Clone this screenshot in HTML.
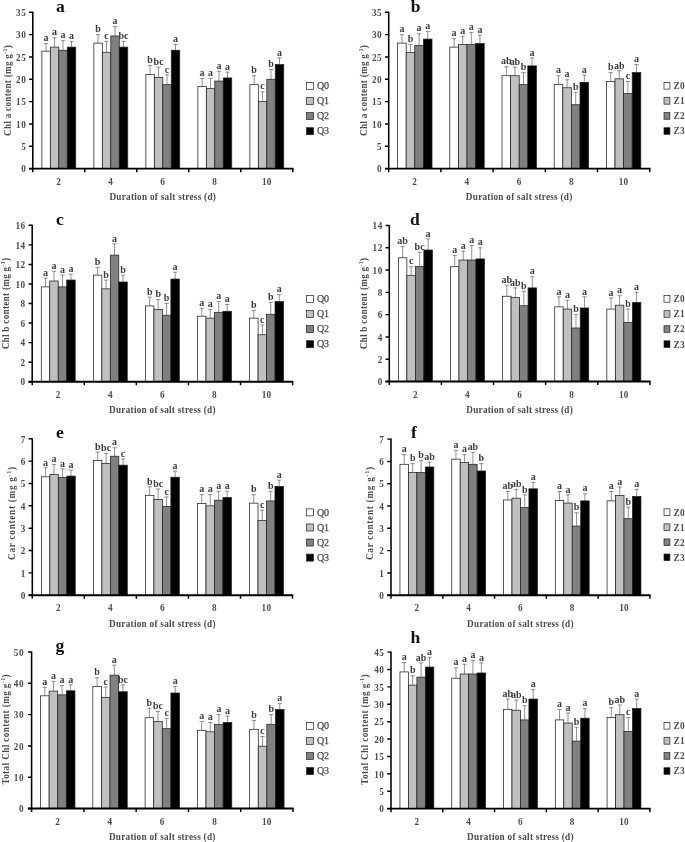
<!DOCTYPE html>
<html lang="en"><head><meta charset="utf-8"><title>Pigment content under salt stress</title>
<style>
html,body{margin:0;padding:0;background:#fff}
body{width:685px;height:842px;overflow:hidden}
svg{display:block;font-family:"Liberation Serif","Times New Roman",serif;fill:#4c4c4c}
text{font-weight:bold;font-size:9.2px;letter-spacing:.27px}
.ay{stroke:#000;stroke-width:1.55;fill:none}
.axx{stroke:#000;stroke-width:1.85;fill:none}
.tk{stroke:#000;stroke-width:1.45;fill:none}
.er{stroke:#555;stroke-width:.65;fill:none}
.br{stroke:#222;stroke-width:.75}
.lb{stroke:#222;stroke-width:.7}
.lt{text-anchor:middle;font-size:10px;letter-spacing:0;fill:#3c3c3c}
.yt{text-anchor:end;letter-spacing:.55px}
.xt{text-anchor:middle}
.ti{text-anchor:middle}
.sup{font-size:6px}
.pl{text-anchor:middle;font-size:17.6px;fill:#111;letter-spacing:0}
.lg{font-weight:normal;font-size:10px;letter-spacing:0;stroke:#4c4c4c;stroke-width:.25}
.lgb{font-size:9.3px}
</style></head>
<body>
<svg width="685" height="842" viewBox="0 0 685 842">
<rect width="685" height="842" fill="#fff"/>
<g>
<path d="M46.09 51.15V43.56M43.99 43.56H48.2" class="er"/>
<rect x="41.86" y="51.15" width="8.47" height="117.45" fill="#ffffff" class="br"/>
<text transform="translate(46.09 41.26) scale(1 1.14)" class="lt">a</text>
<path d="M54.56 47.13V37.75M52.46 37.75H56.66" class="er"/>
<rect x="50.33" y="47.13" width="8.47" height="121.47" fill="#c0c0c0" class="br"/>
<text transform="translate(54.56 35.45) scale(1 1.14)" class="lt">a</text>
<path d="M63.03 50.26V40.43M60.93 40.43H65.13" class="er"/>
<rect x="58.8" y="50.26" width="8.47" height="118.34" fill="#808080" class="br"/>
<text transform="translate(63.03 38.13) scale(1 1.14)" class="lt">a</text>
<path d="M71.51 47.13V41.33M69.41 41.33H73.61" class="er"/>
<rect x="67.27" y="47.13" width="8.47" height="121.47" fill="#000000" class="br"/>
<text transform="translate(71.51 39.03) scale(1 1.14)" class="lt">a</text>
<path d="M98.09 43.11V34.63M96 34.63H100.19" class="er"/>
<rect x="93.86" y="43.11" width="8.47" height="125.49" fill="#ffffff" class="br"/>
<text transform="translate(98.09 32.33) scale(1 1.14)" class="lt">b</text>
<path d="M106.56 52.27V41.33M104.47 41.33H108.66" class="er"/>
<rect x="102.33" y="52.27" width="8.47" height="116.33" fill="#c0c0c0" class="br"/>
<text transform="translate(106.56 39.03) scale(1 1.14)" class="lt">c</text>
<path d="M115.03 35.97V26.59M112.94 26.59H117.13" class="er"/>
<rect x="110.8" y="35.97" width="8.47" height="132.63" fill="#808080" class="br"/>
<text transform="translate(115.03 24.29) scale(1 1.14)" class="lt">a</text>
<path d="M123.51 47.13V41.33M121.41 41.33H125.61" class="er"/>
<rect x="119.27" y="47.13" width="8.47" height="121.47" fill="#000000" class="br"/>
<text transform="translate(123.51 39.03) scale(1 1.14)" class="lt">bc</text>
<path d="M150.1 74.37V65.44M148 65.44H152.2" class="er"/>
<rect x="145.86" y="74.37" width="8.47" height="94.23" fill="#ffffff" class="br"/>
<text transform="translate(150.1 63.14) scale(1 1.14)" class="lt">b</text>
<path d="M158.57 77.5V67.23M156.47 67.23H160.67" class="er"/>
<rect x="154.33" y="77.5" width="8.47" height="91.1" fill="#c0c0c0" class="br"/>
<text transform="translate(158.57 64.93) scale(1 1.14)" class="lt">bc</text>
<path d="M167.04 84.64V74.82M164.94 74.82H169.14" class="er"/>
<rect x="162.8" y="84.64" width="8.47" height="83.96" fill="#808080" class="br"/>
<text transform="translate(167.04 72.52) scale(1 1.14)" class="lt">c</text>
<path d="M175.51 50.26V44.45M173.41 44.45H177.61" class="er"/>
<rect x="171.27" y="50.26" width="8.47" height="118.34" fill="#000000" class="br"/>
<text transform="translate(175.51 42.15) scale(1 1.14)" class="lt">a</text>
<path d="M202.1 86.43V78.39M200 78.39H204.2" class="er"/>
<rect x="197.86" y="86.43" width="8.47" height="82.17" fill="#ffffff" class="br"/>
<text transform="translate(202.1 76.09) scale(1 1.14)" class="lt">a</text>
<path d="M210.57 88.66V78.39M208.47 78.39H212.67" class="er"/>
<rect x="206.33" y="88.66" width="8.47" height="79.94" fill="#c0c0c0" class="br"/>
<text transform="translate(210.57 76.09) scale(1 1.14)" class="lt">a</text>
<path d="M219.04 81.07V71.25M216.94 71.25H221.14" class="er"/>
<rect x="214.8" y="81.07" width="8.47" height="87.53" fill="#808080" class="br"/>
<text transform="translate(219.04 68.95) scale(1 1.14)" class="lt">a</text>
<path d="M227.51 77.95V72.14M225.41 72.14H229.61" class="er"/>
<rect x="223.27" y="77.95" width="8.47" height="90.65" fill="#000000" class="br"/>
<text transform="translate(227.51 69.84) scale(1 1.14)" class="lt">a</text>
<path d="M254.1 84.64V75.71M252 75.71H256.2" class="er"/>
<rect x="249.86" y="84.64" width="8.47" height="83.96" fill="#ffffff" class="br"/>
<text transform="translate(254.1 73.41) scale(1 1.14)" class="lt">b</text>
<path d="M262.57 101.61V91.79M260.47 91.79H264.67" class="er"/>
<rect x="258.33" y="101.61" width="8.47" height="66.99" fill="#c0c0c0" class="br"/>
<text transform="translate(262.57 89.49) scale(1 1.14)" class="lt">c</text>
<path d="M271.04 79.29V69.46M268.94 69.46H273.14" class="er"/>
<rect x="266.8" y="79.29" width="8.47" height="89.31" fill="#808080" class="br"/>
<text transform="translate(271.04 67.16) scale(1 1.14)" class="lt">b</text>
<path d="M279.51 64.55V57.85M277.41 57.85H281.61" class="er"/>
<rect x="275.27" y="64.55" width="8.47" height="104.05" fill="#000000" class="br"/>
<text transform="translate(279.51 55.55) scale(1 1.14)" class="lt">a</text>
<path d="M32.8 11.7V169.5" class="ay"/>
<path d="M29.1 168.6H293.5" class="axx"/>
<text transform="translate(26.3 172.3) scale(1 1.14)" class="yt">0</text>
<text transform="translate(26.3 149.97) scale(1 1.14)" class="yt">5</text>
<text transform="translate(26.3 127.64) scale(1 1.14)" class="yt">10</text>
<text transform="translate(26.3 105.31) scale(1 1.14)" class="yt">15</text>
<text transform="translate(26.3 82.99) scale(1 1.14)" class="yt">20</text>
<text transform="translate(26.3 60.66) scale(1 1.14)" class="yt">25</text>
<text transform="translate(26.3 38.33) scale(1 1.14)" class="yt">30</text>
<text transform="translate(26.3 16) scale(1 1.14)" class="yt">35</text>
<path d="M29.1 168.6H32.8M29.1 146.27H32.8M29.1 123.94H32.8M29.1 101.61H32.8M29.1 79.29H32.8M29.1 56.96H32.8M29.1 34.63H32.8M29.1 12.3H32.8M32.8 168.6V172.2M84.8 168.6V172.2M136.8 168.6V172.2M188.8 168.6V172.2M240.8 168.6V172.2M292.8 168.6V172.2" class="tk"/>
<text transform="translate(58.8 184.7) scale(1 1.14)" class="xt">2</text>
<text transform="translate(110.8 184.7) scale(1 1.14)" class="xt">4</text>
<text transform="translate(162.8 184.7) scale(1 1.14)" class="xt">6</text>
<text transform="translate(214.8 184.7) scale(1 1.14)" class="xt">8</text>
<text transform="translate(266.8 184.7) scale(1 1.14)" class="xt">10</text>
<text transform="translate(162.8 200.2) scale(1 1.14)" class="ti">Duration of salt stress (d)</text>
<text transform="translate(10.6 90.45) rotate(-90) scale(1 1.14)" class="ti">Chl a content (mg g<tspan class="sup" dy="-3.5">-1</tspan><tspan dy="3.5">)</tspan></text>
<text transform="translate(60.4 11.6) scale(1 .93)" class="pl">a</text>
<rect x="306.6" y="82.5" width="7" height="7" fill="#ffffff" class="lb"/>
<text x="316.9" y="89.2" class="lg">Q0</text>
<rect x="306.6" y="97.57" width="7" height="7" fill="#c0c0c0" class="lb"/>
<text x="316.9" y="104.27" class="lg">Q1</text>
<rect x="306.6" y="112.64" width="7" height="7" fill="#808080" class="lb"/>
<text x="316.9" y="119.34" class="lg">Q2</text>
<rect x="306.6" y="127.71" width="7" height="7" fill="#000000" class="lb"/>
<text x="316.9" y="134.41" class="lg">Q3</text>
</g>
<g>
<path d="M401.9 43.11V34.63M399.8 34.63H404" class="er"/>
<rect x="397.6" y="43.11" width="8.6" height="125.49" fill="#ffffff" class="br"/>
<text transform="translate(401.9 32.33) scale(1 1.14)" class="lt">a</text>
<path d="M410.5 52.49V44.45M408.4 44.45H412.6" class="er"/>
<rect x="406.2" y="52.49" width="8.6" height="116.11" fill="#c0c0c0" class="br"/>
<text transform="translate(410.5 42.15) scale(1 1.14)" class="lt">b</text>
<path d="M419.1 45.35V33.74M417 33.74H421.2" class="er"/>
<rect x="414.8" y="45.35" width="8.6" height="123.25" fill="#808080" class="br"/>
<text transform="translate(419.1 31.44) scale(1 1.14)" class="lt">a</text>
<path d="M427.7 39.09V31.5M425.6 31.5H429.8" class="er"/>
<rect x="423.4" y="39.09" width="8.6" height="129.51" fill="#000000" class="br"/>
<text transform="translate(427.7 29.2) scale(1 1.14)" class="lt">a</text>
<path d="M454.1 47.13V38.65M452 38.65H456.2" class="er"/>
<rect x="449.8" y="47.13" width="8.6" height="121.47" fill="#ffffff" class="br"/>
<text transform="translate(454.1 36.35) scale(1 1.14)" class="lt">a</text>
<path d="M462.7 44.45V36.41M460.6 36.41H464.8" class="er"/>
<rect x="458.4" y="44.45" width="8.6" height="124.15" fill="#c0c0c0" class="br"/>
<text transform="translate(462.7 34.11) scale(1 1.14)" class="lt">a</text>
<path d="M471.3 44.45V32.4M469.2 32.4H473.4" class="er"/>
<rect x="467" y="44.45" width="8.6" height="124.15" fill="#808080" class="br"/>
<text transform="translate(471.3 30.1) scale(1 1.14)" class="lt">a</text>
<path d="M479.9 43.56V35.08M477.8 35.08H482" class="er"/>
<rect x="475.6" y="43.56" width="8.6" height="125.04" fill="#000000" class="br"/>
<text transform="translate(479.9 32.78) scale(1 1.14)" class="lt">a</text>
<path d="M506.3 75.71V66.78M504.2 66.78H508.4" class="er"/>
<rect x="502" y="75.71" width="8.6" height="92.89" fill="#ffffff" class="br"/>
<text transform="translate(506.3 64.48) scale(1 1.14)" class="lt">ab</text>
<path d="M514.9 75.71V67.23M512.8 67.23H517" class="er"/>
<rect x="510.6" y="75.71" width="8.6" height="92.89" fill="#c0c0c0" class="br"/>
<text transform="translate(514.9 64.93) scale(1 1.14)" class="lt">ab</text>
<path d="M523.5 84.64V72.59M521.4 72.59H525.6" class="er"/>
<rect x="519.2" y="84.64" width="8.6" height="83.96" fill="#808080" class="br"/>
<text transform="translate(523.5 70.29) scale(1 1.14)" class="lt">b</text>
<path d="M532.1 65.89V57.85M530 57.85H534.2" class="er"/>
<rect x="527.8" y="65.89" width="8.6" height="102.71" fill="#000000" class="br"/>
<text transform="translate(532.1 55.55) scale(1 1.14)" class="lt">a</text>
<path d="M558.5 84.64V75.71M556.4 75.71H560.6" class="er"/>
<rect x="554.2" y="84.64" width="8.6" height="83.96" fill="#ffffff" class="br"/>
<text transform="translate(558.5 73.41) scale(1 1.14)" class="lt">a</text>
<path d="M567.1 87.77V79.73M565 79.73H569.2" class="er"/>
<rect x="562.8" y="87.77" width="8.6" height="80.83" fill="#c0c0c0" class="br"/>
<text transform="translate(567.1 77.43) scale(1 1.14)" class="lt">a</text>
<path d="M575.7 104.74V92.24M573.6 92.24H577.8" class="er"/>
<rect x="571.4" y="104.74" width="8.6" height="63.86" fill="#808080" class="br"/>
<text transform="translate(575.7 89.94) scale(1 1.14)" class="lt">b</text>
<path d="M584.3 82.41V75.04M582.2 75.04H586.4" class="er"/>
<rect x="580" y="82.41" width="8.6" height="86.19" fill="#000000" class="br"/>
<text transform="translate(584.3 72.74) scale(1 1.14)" class="lt">a</text>
<path d="M610.7 81.52V72.59M608.6 72.59H612.8" class="er"/>
<rect x="606.4" y="81.52" width="8.6" height="87.08" fill="#ffffff" class="br"/>
<text transform="translate(610.7 70.29) scale(1 1.14)" class="lt">b</text>
<path d="M619.3 78.84V70.8M617.2 70.8H621.4" class="er"/>
<rect x="615" y="78.84" width="8.6" height="89.76" fill="#c0c0c0" class="br"/>
<text transform="translate(619.3 68.5) scale(1 1.14)" class="lt">ab</text>
<path d="M627.9 93.58V81.52M625.8 81.52H630" class="er"/>
<rect x="623.6" y="93.58" width="8.6" height="75.02" fill="#808080" class="br"/>
<text transform="translate(627.9 79.22) scale(1 1.14)" class="lt">c</text>
<path d="M636.5 72.59V64.55M634.4 64.55H638.6" class="er"/>
<rect x="632.2" y="72.59" width="8.6" height="96.01" fill="#000000" class="br"/>
<text transform="translate(636.5 62.25) scale(1 1.14)" class="lt">a</text>
<path d="M388.7 11.7V169.5" class="ay"/>
<path d="M385 168.6H650.4" class="axx"/>
<text transform="translate(382.2 172.3) scale(1 1.14)" class="yt">0</text>
<text transform="translate(382.2 149.97) scale(1 1.14)" class="yt">5</text>
<text transform="translate(382.2 127.64) scale(1 1.14)" class="yt">10</text>
<text transform="translate(382.2 105.31) scale(1 1.14)" class="yt">15</text>
<text transform="translate(382.2 82.99) scale(1 1.14)" class="yt">20</text>
<text transform="translate(382.2 60.66) scale(1 1.14)" class="yt">25</text>
<text transform="translate(382.2 38.33) scale(1 1.14)" class="yt">30</text>
<text transform="translate(382.2 16) scale(1 1.14)" class="yt">35</text>
<path d="M385 168.6H388.7M385 146.27H388.7M385 123.94H388.7M385 101.61H388.7M385 79.29H388.7M385 56.96H388.7M385 34.63H388.7M385 12.3H388.7M388.7 168.6V172.2M440.9 168.6V172.2M493.1 168.6V172.2M545.3 168.6V172.2M597.5 168.6V172.2M649.7 168.6V172.2" class="tk"/>
<text transform="translate(414.8 184.7) scale(1 1.14)" class="xt">2</text>
<text transform="translate(467 184.7) scale(1 1.14)" class="xt">4</text>
<text transform="translate(519.2 184.7) scale(1 1.14)" class="xt">6</text>
<text transform="translate(571.4 184.7) scale(1 1.14)" class="xt">8</text>
<text transform="translate(623.6 184.7) scale(1 1.14)" class="xt">10</text>
<text transform="translate(519.2 200.2) scale(1 1.14)" class="ti">Duration of salt stress (d)</text>
<text transform="translate(366.6 90.45) rotate(-90) scale(1 1.14)" class="ti">Chl a content (mg g<tspan class="sup" dy="-3.5">-1</tspan><tspan dy="3.5">)</tspan></text>
<text transform="translate(415.6 11.6) scale(1 .93)" class="pl">b</text>
<rect x="664" y="82.5" width="5.9" height="6.6" fill="#ffffff" class="lb"/>
<text x="673.5" y="89.2" class="lgb">Z0</text>
<rect x="664" y="97.57" width="5.9" height="6.6" fill="#c0c0c0" class="lb"/>
<text x="673.5" y="104.27" class="lgb">Z1</text>
<rect x="664" y="112.64" width="5.9" height="6.6" fill="#808080" class="lb"/>
<text x="673.5" y="119.34" class="lgb">Z2</text>
<rect x="664" y="127.71" width="5.9" height="6.6" fill="#000000" class="lb"/>
<text x="673.5" y="134.41" class="lgb">Z3</text>
</g>
<g>
<path d="M45.54 286.88V278.09M43.44 278.09H47.64" class="er"/>
<rect x="41.3" y="286.88" width="8.47" height="94.82" fill="#ffffff" class="br"/>
<text transform="translate(45.54 275.79) scale(1 1.14)" class="lt">a</text>
<path d="M54.01 281.02V271.24M51.91 271.24H56.11" class="er"/>
<rect x="49.77" y="281.02" width="8.47" height="100.68" fill="#c0c0c0" class="br"/>
<text transform="translate(54.01 268.94) scale(1 1.14)" class="lt">a</text>
<path d="M62.48 286.88V275.15M60.38 275.15H64.58" class="er"/>
<rect x="58.24" y="286.88" width="8.47" height="94.82" fill="#808080" class="br"/>
<text transform="translate(62.48 272.85) scale(1 1.14)" class="lt">a</text>
<path d="M70.95 280.04V274.18M68.85 274.18H73.05" class="er"/>
<rect x="66.71" y="280.04" width="8.47" height="101.66" fill="#000000" class="br"/>
<text transform="translate(70.95 271.88) scale(1 1.14)" class="lt">a</text>
<path d="M97.62 275.15V267.33M95.52 267.33H99.72" class="er"/>
<rect x="93.38" y="275.15" width="8.47" height="106.55" fill="#ffffff" class="br"/>
<text transform="translate(97.62 265.03) scale(1 1.14)" class="lt">b</text>
<path d="M106.09 288.84V280.04M103.99 280.04H108.19" class="er"/>
<rect x="101.85" y="288.84" width="8.47" height="92.86" fill="#c0c0c0" class="br"/>
<text transform="translate(106.09 277.74) scale(1 1.14)" class="lt">b</text>
<path d="M114.56 255.11V243.87M112.46 243.87H116.66" class="er"/>
<rect x="110.32" y="255.11" width="8.47" height="126.59" fill="#808080" class="br"/>
<text transform="translate(114.56 241.57) scale(1 1.14)" class="lt">a</text>
<path d="M123.03 282V275.15M120.93 275.15H125.13" class="er"/>
<rect x="118.79" y="282" width="8.47" height="99.7" fill="#000000" class="br"/>
<text transform="translate(123.03 272.85) scale(1 1.14)" class="lt">b</text>
<path d="M149.7 305.94V297.15M147.6 297.15H151.8" class="er"/>
<rect x="145.46" y="305.94" width="8.47" height="75.76" fill="#ffffff" class="br"/>
<text transform="translate(149.7 294.85) scale(1 1.14)" class="lt">b</text>
<path d="M158.17 309.37V299.59M156.07 299.59H160.27" class="er"/>
<rect x="153.93" y="309.37" width="8.47" height="72.33" fill="#c0c0c0" class="br"/>
<text transform="translate(158.17 297.29) scale(1 1.14)" class="lt">b</text>
<path d="M166.64 315.23V303.5M164.54 303.5H168.74" class="er"/>
<rect x="162.4" y="315.23" width="8.47" height="66.47" fill="#808080" class="br"/>
<text transform="translate(166.64 301.2) scale(1 1.14)" class="lt">b</text>
<path d="M175.11 279.06V272.22M173.01 272.22H177.21" class="er"/>
<rect x="170.87" y="279.06" width="8.47" height="102.64" fill="#000000" class="br"/>
<text transform="translate(175.11 269.92) scale(1 1.14)" class="lt">a</text>
<path d="M201.78 316.21V308.39M199.68 308.39H203.88" class="er"/>
<rect x="197.54" y="316.21" width="8.47" height="65.49" fill="#ffffff" class="br"/>
<text transform="translate(201.78 306.09) scale(1 1.14)" class="lt">a</text>
<path d="M210.25 318.16V309.37M208.15 309.37H212.35" class="er"/>
<rect x="206.01" y="318.16" width="8.47" height="63.54" fill="#c0c0c0" class="br"/>
<text transform="translate(210.25 307.06) scale(1 1.14)" class="lt">a</text>
<path d="M218.72 312.3V301.55M216.62 301.55H220.82" class="er"/>
<rect x="214.48" y="312.3" width="8.47" height="69.4" fill="#808080" class="br"/>
<text transform="translate(218.72 299.25) scale(1 1.14)" class="lt">a</text>
<path d="M227.19 311.32V304.48M225.09 304.48H229.29" class="er"/>
<rect x="222.95" y="311.32" width="8.47" height="70.38" fill="#000000" class="br"/>
<text transform="translate(227.19 302.18) scale(1 1.14)" class="lt">a</text>
<path d="M253.86 318.16V310.34M251.76 310.34H255.96" class="er"/>
<rect x="249.62" y="318.16" width="8.47" height="63.54" fill="#ffffff" class="br"/>
<text transform="translate(253.86 308.04) scale(1 1.14)" class="lt">b</text>
<path d="M262.33 334.78V325M260.23 325H264.43" class="er"/>
<rect x="258.09" y="334.78" width="8.47" height="46.92" fill="#c0c0c0" class="br"/>
<text transform="translate(262.33 322.7) scale(1 1.14)" class="lt">c</text>
<path d="M270.8 314.25V302.52M268.69 302.52H272.9" class="er"/>
<rect x="266.56" y="314.25" width="8.47" height="67.45" fill="#808080" class="br"/>
<text transform="translate(270.8 300.22) scale(1 1.14)" class="lt">b</text>
<path d="M279.27 301.55V294.7M277.17 294.7H281.37" class="er"/>
<rect x="275.03" y="301.55" width="8.47" height="80.15" fill="#000000" class="br"/>
<text transform="translate(279.27 292.4) scale(1 1.14)" class="lt">a</text>
<path d="M32.2 224.7V382.6" class="ay"/>
<path d="M28.5 381.7H293.3" class="axx"/>
<text transform="translate(25.7 385.4) scale(1 1.14)" class="yt">0</text>
<text transform="translate(25.7 365.85) scale(1 1.14)" class="yt">2</text>
<text transform="translate(25.7 346.3) scale(1 1.14)" class="yt">4</text>
<text transform="translate(25.7 326.75) scale(1 1.14)" class="yt">6</text>
<text transform="translate(25.7 307.2) scale(1 1.14)" class="yt">8</text>
<text transform="translate(25.7 287.65) scale(1 1.14)" class="yt">10</text>
<text transform="translate(25.7 268.1) scale(1 1.14)" class="yt">12</text>
<text transform="translate(25.7 248.55) scale(1 1.14)" class="yt">14</text>
<text transform="translate(25.7 229) scale(1 1.14)" class="yt">16</text>
<path d="M28.5 381.7H32.2M28.5 362.15H32.2M28.5 342.6H32.2M28.5 323.05H32.2M28.5 303.5H32.2M28.5 283.95H32.2M28.5 264.4H32.2M28.5 244.85H32.2M28.5 225.3H32.2M32.2 381.7V385.3M84.28 381.7V385.3M136.36 381.7V385.3M188.44 381.7V385.3M240.52 381.7V385.3M292.6 381.7V385.3" class="tk"/>
<text transform="translate(58.24 397.8) scale(1 1.14)" class="xt">2</text>
<text transform="translate(110.32 397.8) scale(1 1.14)" class="xt">4</text>
<text transform="translate(162.4 397.8) scale(1 1.14)" class="xt">6</text>
<text transform="translate(214.48 397.8) scale(1 1.14)" class="xt">8</text>
<text transform="translate(266.56 397.8) scale(1 1.14)" class="xt">10</text>
<text transform="translate(162.4 413.3) scale(1 1.14)" class="ti">Duration of salt stress (d)</text>
<text transform="translate(9 303.5) rotate(-90) scale(1 1.14)" class="ti">Chl b content (mg g<tspan class="sup" dy="-3.5">-1</tspan><tspan dy="3.5">)</tspan></text>
<text transform="translate(59.9 225.1) scale(1 .93)" class="pl">c</text>
<rect x="306.6" y="295.5" width="7" height="7" fill="#ffffff" class="lb"/>
<text x="316.9" y="302.2" class="lg">Q0</text>
<rect x="306.6" y="310.57" width="7" height="7" fill="#c0c0c0" class="lb"/>
<text x="316.9" y="317.27" class="lg">Q1</text>
<rect x="306.6" y="325.64" width="7" height="7" fill="#808080" class="lb"/>
<text x="316.9" y="332.34" class="lg">Q2</text>
<rect x="306.6" y="340.71" width="7" height="7" fill="#000000" class="lb"/>
<text x="316.9" y="347.41" class="lg">Q3</text>
</g>
<g>
<path d="M402.61 257.81V246.67M400.51 246.67H404.71" class="er"/>
<rect x="398.36" y="257.81" width="8.5" height="123.69" fill="#ffffff" class="br"/>
<text transform="translate(402.61 244.37) scale(1 1.14)" class="lt">ab</text>
<path d="M411.11 275.31V266.73M409.01 266.73H413.21" class="er"/>
<rect x="406.86" y="275.31" width="8.5" height="106.19" fill="#c0c0c0" class="br"/>
<text transform="translate(411.11 264.43) scale(1 1.14)" class="lt">c</text>
<path d="M419.61 266.51V252.24M417.51 252.24H421.71" class="er"/>
<rect x="415.36" y="266.51" width="8.5" height="114.99" fill="#808080" class="br"/>
<text transform="translate(419.61 249.94) scale(1 1.14)" class="lt">bc</text>
<path d="M428.11 250.01V238.87M426.01 238.87H430.21" class="er"/>
<rect x="423.86" y="250.01" width="8.5" height="131.49" fill="#000000" class="br"/>
<text transform="translate(428.11 236.57) scale(1 1.14)" class="lt">a</text>
<path d="M454.73 266.73V255.59M452.63 255.59H456.83" class="er"/>
<rect x="450.48" y="266.73" width="8.5" height="114.77" fill="#ffffff" class="br"/>
<text transform="translate(454.73 253.29) scale(1 1.14)" class="lt">a</text>
<path d="M463.23 260.04V251.13M461.13 251.13H465.33" class="er"/>
<rect x="458.98" y="260.04" width="8.5" height="121.46" fill="#c0c0c0" class="br"/>
<text transform="translate(463.23 248.83) scale(1 1.14)" class="lt">a</text>
<path d="M471.73 260.04V245.56M469.63 245.56H473.83" class="er"/>
<rect x="467.48" y="260.04" width="8.5" height="121.46" fill="#808080" class="br"/>
<text transform="translate(471.73 243.26) scale(1 1.14)" class="lt">a</text>
<path d="M480.23 258.93V247.79M478.13 247.79H482.33" class="er"/>
<rect x="475.98" y="258.93" width="8.5" height="122.57" fill="#000000" class="br"/>
<text transform="translate(480.23 245.49) scale(1 1.14)" class="lt">a</text>
<path d="M506.85 296.26V285.11M504.75 285.11H508.95" class="er"/>
<rect x="502.6" y="296.26" width="8.5" height="85.24" fill="#ffffff" class="br"/>
<text transform="translate(506.85 282.81) scale(1 1.14)" class="lt">ab</text>
<path d="M515.35 297.59V287.9M513.25 287.9H517.45" class="er"/>
<rect x="511.1" y="297.59" width="8.5" height="83.91" fill="#c0c0c0" class="br"/>
<text transform="translate(515.35 285.6) scale(1 1.14)" class="lt">ab</text>
<path d="M523.85 305.73V291.24M521.75 291.24H525.95" class="er"/>
<rect x="519.6" y="305.73" width="8.5" height="75.77" fill="#808080" class="br"/>
<text transform="translate(523.85 288.94) scale(1 1.14)" class="lt">b</text>
<path d="M532.35 287.9V276.76M530.25 276.76H534.45" class="er"/>
<rect x="528.1" y="287.9" width="8.5" height="93.6" fill="#000000" class="br"/>
<text transform="translate(532.35 274.46) scale(1 1.14)" class="lt">a</text>
<path d="M558.97 306.84V296.81M556.87 296.81H561.07" class="er"/>
<rect x="554.72" y="306.84" width="8.5" height="74.66" fill="#ffffff" class="br"/>
<text transform="translate(558.97 294.51) scale(1 1.14)" class="lt">a</text>
<path d="M567.47 309.07V300.16M565.37 300.16H569.57" class="er"/>
<rect x="563.22" y="309.07" width="8.5" height="72.43" fill="#c0c0c0" class="br"/>
<text transform="translate(567.47 297.86) scale(1 1.14)" class="lt">a</text>
<path d="M575.97 328.01V314.64M573.87 314.64H578.07" class="er"/>
<rect x="571.72" y="328.01" width="8.5" height="53.49" fill="#808080" class="br"/>
<text transform="translate(575.97 312.34) scale(1 1.14)" class="lt">b</text>
<path d="M584.47 307.96V296.81M582.37 296.81H586.57" class="er"/>
<rect x="580.22" y="307.96" width="8.5" height="73.54" fill="#000000" class="br"/>
<text transform="translate(584.47 294.51) scale(1 1.14)" class="lt">a</text>
<path d="M611.09 309.07V297.93M608.99 297.93H613.19" class="er"/>
<rect x="606.84" y="309.07" width="8.5" height="72.43" fill="#ffffff" class="br"/>
<text transform="translate(611.09 295.63) scale(1 1.14)" class="lt">a</text>
<path d="M619.59 305.17V295.7M617.49 295.7H621.69" class="er"/>
<rect x="615.34" y="305.17" width="8.5" height="76.33" fill="#c0c0c0" class="br"/>
<text transform="translate(619.59 293.4) scale(1 1.14)" class="lt">a</text>
<path d="M628.09 322.44V309.07M625.99 309.07H630.19" class="er"/>
<rect x="623.84" y="322.44" width="8.5" height="59.06" fill="#808080" class="br"/>
<text transform="translate(628.09 306.77) scale(1 1.14)" class="lt">b</text>
<path d="M636.59 302.39V292.36M634.49 292.36H638.69" class="er"/>
<rect x="632.34" y="302.39" width="8.5" height="79.11" fill="#000000" class="br"/>
<text transform="translate(636.59 290.06) scale(1 1.14)" class="lt">a</text>
<path d="M389.3 224.9V382.4" class="ay"/>
<path d="M385.6 381.5H650.6" class="axx"/>
<text transform="translate(382.8 385.2) scale(1 1.14)" class="yt">0</text>
<text transform="translate(382.8 362.91) scale(1 1.14)" class="yt">2</text>
<text transform="translate(382.8 340.63) scale(1 1.14)" class="yt">4</text>
<text transform="translate(382.8 318.34) scale(1 1.14)" class="yt">6</text>
<text transform="translate(382.8 296.06) scale(1 1.14)" class="yt">8</text>
<text transform="translate(382.8 273.77) scale(1 1.14)" class="yt">10</text>
<text transform="translate(382.8 251.49) scale(1 1.14)" class="yt">12</text>
<text transform="translate(382.8 229.2) scale(1 1.14)" class="yt">14</text>
<path d="M385.6 381.5H389.3M385.6 359.21H389.3M385.6 336.93H389.3M385.6 314.64H389.3M385.6 292.36H389.3M385.6 270.07H389.3M385.6 247.79H389.3M385.6 225.5H389.3M389.3 381.5V385.1M441.42 381.5V385.1M493.54 381.5V385.1M545.66 381.5V385.1M597.78 381.5V385.1M649.9 381.5V385.1" class="tk"/>
<text transform="translate(415.36 397.6) scale(1 1.14)" class="xt">2</text>
<text transform="translate(467.48 397.6) scale(1 1.14)" class="xt">4</text>
<text transform="translate(519.6 397.6) scale(1 1.14)" class="xt">6</text>
<text transform="translate(571.72 397.6) scale(1 1.14)" class="xt">8</text>
<text transform="translate(623.84 397.6) scale(1 1.14)" class="xt">10</text>
<text transform="translate(519.6 413.1) scale(1 1.14)" class="ti">Duration of salt stress (d)</text>
<text transform="translate(366.6 303.5) rotate(-90) scale(1 1.14)" class="ti">Chl b content (mg g<tspan class="sup" dy="-3.5">-1</tspan><tspan dy="3.5">)</tspan></text>
<text transform="translate(415 225.1) scale(1 .93)" class="pl">d</text>
<rect x="664" y="295.6" width="5.9" height="6.6" fill="#ffffff" class="lb"/>
<text x="673.5" y="302.3" class="lgb">Z0</text>
<rect x="664" y="310.67" width="5.9" height="6.6" fill="#c0c0c0" class="lb"/>
<text x="673.5" y="317.37" class="lgb">Z1</text>
<rect x="664" y="325.74" width="5.9" height="6.6" fill="#808080" class="lb"/>
<text x="673.5" y="332.44" class="lgb">Z2</text>
<rect x="664" y="340.81" width="5.9" height="6.6" fill="#000000" class="lb"/>
<text x="673.5" y="347.51" class="lgb">Z3</text>
</g>
<g>
<path d="M45.61 476.78V467.85M43.51 467.85H47.71" class="er"/>
<rect x="41.38" y="476.78" width="8.47" height="118.42" fill="#ffffff" class="br"/>
<text transform="translate(45.61 465.55) scale(1 1.14)" class="lt">a</text>
<path d="M54.08 474.55V464.49M51.98 464.49H56.18" class="er"/>
<rect x="49.85" y="474.55" width="8.47" height="120.65" fill="#c0c0c0" class="br"/>
<text transform="translate(54.08 462.19) scale(1 1.14)" class="lt">a</text>
<path d="M62.55 477.45V468.96M60.45 468.96H64.65" class="er"/>
<rect x="58.32" y="477.45" width="8.47" height="117.75" fill="#808080" class="br"/>
<text transform="translate(62.55 466.66) scale(1 1.14)" class="lt">a</text>
<path d="M71.02 476.11V470.08M68.92 470.08H73.12" class="er"/>
<rect x="66.79" y="476.11" width="8.47" height="119.09" fill="#000000" class="br"/>
<text transform="translate(71.02 467.78) scale(1 1.14)" class="lt">a</text>
<path d="M97.66 460.47V452.21M95.56 452.21H99.75" class="er"/>
<rect x="93.42" y="460.47" width="8.47" height="134.73" fill="#ffffff" class="br"/>
<text transform="translate(97.66 449.91) scale(1 1.14)" class="lt">b</text>
<path d="M106.12 463.38V453.32M104.03 453.32H108.22" class="er"/>
<rect x="101.89" y="463.38" width="8.47" height="131.82" fill="#c0c0c0" class="br"/>
<text transform="translate(106.12 451.02) scale(1 1.14)" class="lt">bc</text>
<path d="M114.59 456.23V447.74M112.5 447.74H116.69" class="er"/>
<rect x="110.36" y="456.23" width="8.47" height="138.97" fill="#808080" class="br"/>
<text transform="translate(114.59 445.44) scale(1 1.14)" class="lt">a</text>
<path d="M123.07 465.16V458.91M120.97 458.91H125.17" class="er"/>
<rect x="118.83" y="465.16" width="8.47" height="130.04" fill="#000000" class="br"/>
<text transform="translate(123.07 456.61) scale(1 1.14)" class="lt">c</text>
<path d="M149.69 495.33V486.84M147.59 486.84H151.79" class="er"/>
<rect x="145.46" y="495.33" width="8.47" height="99.87" fill="#ffffff" class="br"/>
<text transform="translate(149.69 484.54) scale(1 1.14)" class="lt">b</text>
<path d="M158.16 499.57V489.07M156.06 489.07H160.26" class="er"/>
<rect x="153.93" y="499.57" width="8.47" height="95.63" fill="#c0c0c0" class="br"/>
<text transform="translate(158.16 486.77) scale(1 1.14)" class="lt">bc</text>
<path d="M166.63 506.5V496.89M164.53 496.89H168.73" class="er"/>
<rect x="162.4" y="506.5" width="8.47" height="88.7" fill="#808080" class="br"/>
<text transform="translate(166.63 494.59) scale(1 1.14)" class="lt">c</text>
<path d="M175.1 477.23V471.2M173 471.2H177.2" class="er"/>
<rect x="170.87" y="477.23" width="8.47" height="117.97" fill="#000000" class="br"/>
<text transform="translate(175.1 468.9) scale(1 1.14)" class="lt">a</text>
<path d="M201.74 503.59V494.66M199.64 494.66H203.84" class="er"/>
<rect x="197.5" y="503.59" width="8.47" height="91.61" fill="#ffffff" class="br"/>
<text transform="translate(201.74 492.36) scale(1 1.14)" class="lt">a</text>
<path d="M210.21 505.83V494.66M208.11 494.66H212.31" class="er"/>
<rect x="205.97" y="505.83" width="8.47" height="89.37" fill="#c0c0c0" class="br"/>
<text transform="translate(210.21 492.36) scale(1 1.14)" class="lt">a</text>
<path d="M218.68 500.24V491.31M216.58 491.31H220.78" class="er"/>
<rect x="214.44" y="500.24" width="8.47" height="94.96" fill="#808080" class="br"/>
<text transform="translate(218.68 489.01) scale(1 1.14)" class="lt">a</text>
<path d="M227.15 497.34V491.31M225.05 491.31H229.25" class="er"/>
<rect x="222.91" y="497.34" width="8.47" height="97.86" fill="#000000" class="br"/>
<text transform="translate(227.15 489.01) scale(1 1.14)" class="lt">a</text>
<path d="M253.78 503.15V494.66M251.68 494.66H255.88" class="er"/>
<rect x="249.54" y="503.15" width="8.47" height="92.05" fill="#ffffff" class="br"/>
<text transform="translate(253.78 492.36) scale(1 1.14)" class="lt">b</text>
<path d="M262.25 520.35V510.3M260.15 510.3H264.35" class="er"/>
<rect x="258.01" y="520.35" width="8.47" height="74.85" fill="#c0c0c0" class="br"/>
<text transform="translate(262.25 508) scale(1 1.14)" class="lt">c</text>
<path d="M270.72 500.91V491.31M268.62 491.31H272.82" class="er"/>
<rect x="266.48" y="500.91" width="8.47" height="94.29" fill="#808080" class="br"/>
<text transform="translate(270.72 489.01) scale(1 1.14)" class="lt">b</text>
<path d="M279.19 486.39V480.13M277.09 480.13H281.29" class="er"/>
<rect x="274.95" y="486.39" width="8.47" height="108.81" fill="#000000" class="br"/>
<text transform="translate(279.19 477.83) scale(1 1.14)" class="lt">a</text>
<path d="M32.3 438.2V596.1" class="ay"/>
<path d="M28.6 595.2H293.2" class="axx"/>
<text transform="translate(25.8 598.9) scale(1 1.14)" class="yt">0</text>
<text transform="translate(25.8 576.56) scale(1 1.14)" class="yt">1</text>
<text transform="translate(25.8 554.21) scale(1 1.14)" class="yt">2</text>
<text transform="translate(25.8 531.87) scale(1 1.14)" class="yt">3</text>
<text transform="translate(25.8 509.53) scale(1 1.14)" class="yt">4</text>
<text transform="translate(25.8 487.19) scale(1 1.14)" class="yt">5</text>
<text transform="translate(25.8 464.84) scale(1 1.14)" class="yt">6</text>
<text transform="translate(25.8 442.5) scale(1 1.14)" class="yt">7</text>
<path d="M28.6 595.2H32.3M28.6 572.86H32.3M28.6 550.51H32.3M28.6 528.17H32.3M28.6 505.83H32.3M28.6 483.49H32.3M28.6 461.14H32.3M28.6 438.8H32.3M32.3 595.2V598.8M84.34 595.2V598.8M136.38 595.2V598.8M188.42 595.2V598.8M240.46 595.2V598.8M292.5 595.2V598.8" class="tk"/>
<text transform="translate(58.32 611.3) scale(1 1.14)" class="xt">2</text>
<text transform="translate(110.36 611.3) scale(1 1.14)" class="xt">4</text>
<text transform="translate(162.4 611.3) scale(1 1.14)" class="xt">6</text>
<text transform="translate(214.44 611.3) scale(1 1.14)" class="xt">8</text>
<text transform="translate(266.48 611.3) scale(1 1.14)" class="xt">10</text>
<text transform="translate(162.4 626.8) scale(1 1.14)" class="ti">Duration of salt stress (d)</text>
<text transform="translate(14.5 513) rotate(-90) scale(1 1.14)" class="ti" style="letter-spacing:0.73px">Car content (mg g<tspan class="sup" dy="-3.5">-1</tspan><tspan dy="3.5">)</tspan></text>
<text transform="translate(60 438.1) scale(1 .93)" class="pl">e</text>
<rect x="306.6" y="508.9" width="7" height="7" fill="#ffffff" class="lb"/>
<text x="316.9" y="515.6" class="lg">Q0</text>
<rect x="306.6" y="523.97" width="7" height="7" fill="#c0c0c0" class="lb"/>
<text x="316.9" y="530.67" class="lg">Q1</text>
<rect x="306.6" y="539.04" width="7" height="7" fill="#808080" class="lb"/>
<text x="316.9" y="545.74" class="lg">Q2</text>
<rect x="306.6" y="554.11" width="7" height="7" fill="#000000" class="lb"/>
<text x="316.9" y="560.81" class="lg">Q3</text>
</g>
<g>
<path d="M404.19 464.3V454.71M402.08 454.71H406.29" class="er"/>
<rect x="399.95" y="464.3" width="8.47" height="130.9" fill="#ffffff" class="br"/>
<text transform="translate(404.19 452.41) scale(1 1.14)" class="lt">a</text>
<path d="M412.66 472.55V463.63M410.56 463.63H414.76" class="er"/>
<rect x="408.42" y="472.55" width="8.47" height="122.65" fill="#c0c0c0" class="br"/>
<text transform="translate(412.66 461.33) scale(1 1.14)" class="lt">b</text>
<path d="M421.12 472.55V460.29M419.02 460.29H423.23" class="er"/>
<rect x="416.89" y="472.55" width="8.47" height="122.65" fill="#808080" class="br"/>
<text transform="translate(421.12 457.99) scale(1 1.14)" class="lt">b</text>
<path d="M429.6 466.98V462.07M427.5 462.07H431.7" class="er"/>
<rect x="425.36" y="466.98" width="8.47" height="128.23" fill="#000000" class="br"/>
<text transform="translate(429.6 459.77) scale(1 1.14)" class="lt">ab</text>
<path d="M455.96 459.17V450.25M453.86 450.25H458.06" class="er"/>
<rect x="451.73" y="459.17" width="8.47" height="136.03" fill="#ffffff" class="br"/>
<text transform="translate(455.96 447.95) scale(1 1.14)" class="lt">a</text>
<path d="M464.44 462.51V454.71M462.33 454.71H466.54" class="er"/>
<rect x="460.2" y="462.51" width="8.47" height="132.69" fill="#c0c0c0" class="br"/>
<text transform="translate(464.44 452.41) scale(1 1.14)" class="lt">a</text>
<path d="M472.9 464.3V452.48M470.8 452.48H475" class="er"/>
<rect x="468.67" y="464.3" width="8.47" height="130.9" fill="#808080" class="br"/>
<text transform="translate(472.9 450.18) scale(1 1.14)" class="lt">ab</text>
<path d="M481.38 470.99V463.63M479.27 463.63H483.48" class="er"/>
<rect x="477.14" y="470.99" width="8.47" height="124.21" fill="#000000" class="br"/>
<text transform="translate(481.38 461.33) scale(1 1.14)" class="lt">b</text>
<path d="M507.75 499.98V491.5M505.65 491.5H509.85" class="er"/>
<rect x="503.51" y="499.98" width="8.47" height="95.22" fill="#ffffff" class="br"/>
<text transform="translate(507.75 489.2) scale(1 1.14)" class="lt">ab</text>
<path d="M516.22 498.2V489.28M514.12 489.28H518.32" class="er"/>
<rect x="511.98" y="498.2" width="8.47" height="97" fill="#c0c0c0" class="br"/>
<text transform="translate(516.22 486.98) scale(1 1.14)" class="lt">ab</text>
<path d="M524.69 507.56V494.85M522.59 494.85H526.79" class="er"/>
<rect x="520.45" y="507.56" width="8.47" height="87.64" fill="#808080" class="br"/>
<text transform="translate(524.69 492.55) scale(1 1.14)" class="lt">b</text>
<path d="M533.16 488.83V482.59M531.06 482.59H535.26" class="er"/>
<rect x="528.92" y="488.83" width="8.47" height="106.37" fill="#000000" class="br"/>
<text transform="translate(533.16 480.29) scale(1 1.14)" class="lt">a</text>
<path d="M559.52 500.43V491.5M557.42 491.5H561.62" class="er"/>
<rect x="555.29" y="500.43" width="8.47" height="94.78" fill="#ffffff" class="br"/>
<text transform="translate(559.52 489.2) scale(1 1.14)" class="lt">a</text>
<path d="M568 503.1V494.85M565.89 494.85H570.1" class="er"/>
<rect x="563.76" y="503.1" width="8.47" height="92.1" fill="#c0c0c0" class="br"/>
<text transform="translate(568 492.55) scale(1 1.14)" class="lt">a</text>
<path d="M576.47 526.07V512.69M574.37 512.69H578.57" class="er"/>
<rect x="572.23" y="526.07" width="8.47" height="69.13" fill="#808080" class="br"/>
<text transform="translate(576.47 510.39) scale(1 1.14)" class="lt">b</text>
<path d="M584.93 500.87V493.74M582.83 493.74H587.03" class="er"/>
<rect x="580.7" y="500.87" width="8.47" height="94.33" fill="#000000" class="br"/>
<text transform="translate(584.93 491.44) scale(1 1.14)" class="lt">a</text>
<path d="M611.3 500.87V491.5M609.2 491.5H613.4" class="er"/>
<rect x="607.07" y="500.87" width="8.47" height="94.33" fill="#ffffff" class="br"/>
<text transform="translate(611.3 489.2) scale(1 1.14)" class="lt">a</text>
<path d="M619.77 495.52V487.05M617.67 487.05H621.88" class="er"/>
<rect x="615.54" y="495.52" width="8.47" height="99.68" fill="#c0c0c0" class="br"/>
<text transform="translate(619.77 484.75) scale(1 1.14)" class="lt">a</text>
<path d="M628.25 518.71V507.12M626.14 507.12H630.35" class="er"/>
<rect x="624.01" y="518.71" width="8.47" height="76.49" fill="#808080" class="br"/>
<text transform="translate(628.25 504.81) scale(1 1.14)" class="lt">b</text>
<path d="M636.71 496.41V489.28M634.61 489.28H638.81" class="er"/>
<rect x="632.48" y="496.41" width="8.47" height="98.79" fill="#000000" class="br"/>
<text transform="translate(636.71 486.98) scale(1 1.14)" class="lt">a</text>
<path d="M391 438.5V596.1" class="ay"/>
<path d="M387.3 595.2H650.6" class="axx"/>
<text transform="translate(384.5 598.9) scale(1 1.14)" class="yt">0</text>
<text transform="translate(384.5 576.6) scale(1 1.14)" class="yt">1</text>
<text transform="translate(384.5 554.3) scale(1 1.14)" class="yt">2</text>
<text transform="translate(384.5 532) scale(1 1.14)" class="yt">3</text>
<text transform="translate(384.5 509.7) scale(1 1.14)" class="yt">4</text>
<text transform="translate(384.5 487.4) scale(1 1.14)" class="yt">5</text>
<text transform="translate(384.5 465.1) scale(1 1.14)" class="yt">6</text>
<text transform="translate(384.5 442.8) scale(1 1.14)" class="yt">7</text>
<path d="M387.3 595.2H391M387.3 572.9H391M387.3 550.6H391M387.3 528.3H391M387.3 506H391M387.3 483.7H391M387.3 461.4H391M387.3 439.1H391M391 595.2V598.8M442.78 595.2V598.8M494.56 595.2V598.8M546.34 595.2V598.8M598.12 595.2V598.8M649.9 595.2V598.8" class="tk"/>
<text transform="translate(416.89 611.3) scale(1 1.14)" class="xt">2</text>
<text transform="translate(468.67 611.3) scale(1 1.14)" class="xt">4</text>
<text transform="translate(520.45 611.3) scale(1 1.14)" class="xt">6</text>
<text transform="translate(572.23 611.3) scale(1 1.14)" class="xt">8</text>
<text transform="translate(624.01 611.3) scale(1 1.14)" class="xt">10</text>
<text transform="translate(520.45 626.8) scale(1 1.14)" class="ti">Duration of salt stress (d)</text>
<text transform="translate(373 513.15) rotate(-90) scale(1 1.14)" class="ti" style="letter-spacing:0.73px">Car content (mg g<tspan class="sup" dy="-3.5">-1</tspan><tspan dy="3.5">)</tspan></text>
<text transform="translate(414 438.1) scale(1 .93)" class="pl">f</text>
<rect x="664" y="508.8" width="5.9" height="6.6" fill="#ffffff" class="lb"/>
<text x="673.5" y="515.5" class="lgb">Z0</text>
<rect x="664" y="523.87" width="5.9" height="6.6" fill="#c0c0c0" class="lb"/>
<text x="673.5" y="530.57" class="lgb">Z1</text>
<rect x="664" y="538.94" width="5.9" height="6.6" fill="#808080" class="lb"/>
<text x="673.5" y="545.64" class="lgb">Z2</text>
<rect x="664" y="554.01" width="5.9" height="6.6" fill="#000000" class="lb"/>
<text x="673.5" y="560.71" class="lgb">Z3</text>
</g>
<g>
<path d="M44.84 695.82V687.37M42.74 687.37H46.94" class="er"/>
<rect x="40.54" y="695.82" width="8.6" height="112.68" fill="#ffffff" class="br"/>
<text transform="translate(44.84 685.07) scale(1 1.14)" class="lt">a</text>
<path d="M53.44 691.12V681.42M51.34 681.42H55.54" class="er"/>
<rect x="49.14" y="691.12" width="8.6" height="117.38" fill="#c0c0c0" class="br"/>
<text transform="translate(53.44 679.12) scale(1 1.14)" class="lt">a</text>
<path d="M62.04 694.88V685.49M59.94 685.49H64.14" class="er"/>
<rect x="57.74" y="694.88" width="8.6" height="113.62" fill="#808080" class="br"/>
<text transform="translate(62.04 683.19) scale(1 1.14)" class="lt">a</text>
<path d="M70.64 690.81V684.87M68.54 684.87H72.74" class="er"/>
<rect x="66.34" y="690.81" width="8.6" height="117.69" fill="#000000" class="br"/>
<text transform="translate(70.64 682.57) scale(1 1.14)" class="lt">a</text>
<path d="M97.12 686.43V677.67M95.02 677.67H99.22" class="er"/>
<rect x="92.82" y="686.43" width="8.6" height="122.07" fill="#ffffff" class="br"/>
<text transform="translate(97.12 675.37) scale(1 1.14)" class="lt">b</text>
<path d="M105.72 697.38V687.06M103.62 687.06H107.82" class="er"/>
<rect x="101.42" y="697.38" width="8.6" height="111.12" fill="#c0c0c0" class="br"/>
<text transform="translate(105.72 684.76) scale(1 1.14)" class="lt">c</text>
<path d="M114.32 675.16V665.15M112.22 665.15H116.42" class="er"/>
<rect x="110.02" y="675.16" width="8.6" height="133.34" fill="#808080" class="br"/>
<text transform="translate(114.32 662.85) scale(1 1.14)" class="lt">a</text>
<path d="M122.92 691.75V684.87M120.82 684.87H125.02" class="er"/>
<rect x="118.62" y="691.75" width="8.6" height="116.75" fill="#000000" class="br"/>
<text transform="translate(122.92 682.57) scale(1 1.14)" class="lt">bc</text>
<path d="M149.4 717.73V708.34M147.3 708.34H151.5" class="er"/>
<rect x="145.1" y="717.73" width="8.6" height="90.77" fill="#ffffff" class="br"/>
<text transform="translate(149.4 706.04) scale(1 1.14)" class="lt">b</text>
<path d="M158 721.49V711.47M155.9 711.47H160.1" class="er"/>
<rect x="153.7" y="721.49" width="8.6" height="87.01" fill="#c0c0c0" class="br"/>
<text transform="translate(158 709.17) scale(1 1.14)" class="lt">bc</text>
<path d="M166.6 728.68V718.36M164.5 718.36H168.7" class="er"/>
<rect x="162.3" y="728.68" width="8.6" height="79.82" fill="#808080" class="br"/>
<text transform="translate(166.6 716.06) scale(1 1.14)" class="lt">c</text>
<path d="M175.2 693V686.43M173.1 686.43H177.3" class="er"/>
<rect x="170.9" y="693" width="8.6" height="115.5" fill="#000000" class="br"/>
<text transform="translate(175.2 684.13) scale(1 1.14)" class="lt">a</text>
<path d="M201.68 730.25V721.49M199.58 721.49H203.78" class="er"/>
<rect x="197.38" y="730.25" width="8.6" height="78.25" fill="#ffffff" class="br"/>
<text transform="translate(201.68 719.19) scale(1 1.14)" class="lt">a</text>
<path d="M210.28 731.82V722.42M208.18 722.42H212.38" class="er"/>
<rect x="205.98" y="731.82" width="8.6" height="76.68" fill="#c0c0c0" class="br"/>
<text transform="translate(210.28 720.12) scale(1 1.14)" class="lt">a</text>
<path d="M218.88 724.62V714.6M216.78 714.6H220.98" class="er"/>
<rect x="214.58" y="724.62" width="8.6" height="83.88" fill="#808080" class="br"/>
<text transform="translate(218.88 712.3) scale(1 1.14)" class="lt">a</text>
<path d="M227.48 722.42V716.16M225.38 716.16H229.58" class="er"/>
<rect x="223.18" y="722.42" width="8.6" height="86.08" fill="#000000" class="br"/>
<text transform="translate(227.48 713.87) scale(1 1.14)" class="lt">a</text>
<path d="M253.96 729.31V720.55M251.86 720.55H256.06" class="er"/>
<rect x="249.66" y="729.31" width="8.6" height="79.19" fill="#ffffff" class="br"/>
<text transform="translate(253.96 718.25) scale(1 1.14)" class="lt">b</text>
<path d="M262.56 746.21V736.51M260.46 736.51H264.66" class="er"/>
<rect x="258.26" y="746.21" width="8.6" height="62.29" fill="#c0c0c0" class="br"/>
<text transform="translate(262.56 734.21) scale(1 1.14)" class="lt">c</text>
<path d="M271.16 724.3V714.6M269.06 714.6H273.26" class="er"/>
<rect x="266.86" y="724.3" width="8.6" height="84.2" fill="#808080" class="br"/>
<text transform="translate(271.16 712.3) scale(1 1.14)" class="lt">b</text>
<path d="M279.76 709.59V703.64M277.66 703.64H281.86" class="er"/>
<rect x="275.46" y="709.59" width="8.6" height="98.91" fill="#000000" class="br"/>
<text transform="translate(279.76 701.35) scale(1 1.14)" class="lt">a</text>
<path d="M31.6 651.4V809.4" class="ay"/>
<path d="M27.9 808.5H293.7" class="axx"/>
<text transform="translate(24.1 812.2) scale(1 1.14)" class="yt">0</text>
<text transform="translate(24.1 780.9) scale(1 1.14)" class="yt">10</text>
<text transform="translate(24.1 749.6) scale(1 1.14)" class="yt">20</text>
<text transform="translate(24.1 718.3) scale(1 1.14)" class="yt">30</text>
<text transform="translate(24.1 687) scale(1 1.14)" class="yt">40</text>
<text transform="translate(24.1 655.7) scale(1 1.14)" class="yt">50</text>
<path d="M27.9 808.5H31.6M27.9 777.2H31.6M27.9 745.9H31.6M27.9 714.6H31.6M27.9 683.3H31.6M27.9 652H31.6M31.6 808.5V812.1M83.88 808.5V812.1M136.16 808.5V812.1M188.44 808.5V812.1M240.72 808.5V812.1M293 808.5V812.1" class="tk"/>
<text transform="translate(57.74 824.6) scale(1 1.14)" class="xt">2</text>
<text transform="translate(110.02 824.6) scale(1 1.14)" class="xt">4</text>
<text transform="translate(162.3 824.6) scale(1 1.14)" class="xt">6</text>
<text transform="translate(214.58 824.6) scale(1 1.14)" class="xt">8</text>
<text transform="translate(266.86 824.6) scale(1 1.14)" class="xt">10</text>
<text transform="translate(162.3 840.1) scale(1 1.14)" class="ti">Duration of salt stress (d)</text>
<text transform="translate(9 729.25) rotate(-90) scale(1 1.14)" class="ti" style="letter-spacing:0.38px">Total Chl content (mg g<tspan class="sup" dy="-3.5">-1</tspan><tspan dy="3.5">)</tspan></text>
<text transform="translate(60 651.1) scale(1 .93)" class="pl">g</text>
<rect x="306.6" y="722.4" width="7" height="7" fill="#ffffff" class="lb"/>
<text x="316.9" y="729.1" class="lg">Q0</text>
<rect x="306.6" y="737.47" width="7" height="7" fill="#c0c0c0" class="lb"/>
<text x="316.9" y="744.17" class="lg">Q1</text>
<rect x="306.6" y="752.54" width="7" height="7" fill="#808080" class="lb"/>
<text x="316.9" y="759.24" class="lg">Q2</text>
<rect x="306.6" y="767.61" width="7" height="7" fill="#000000" class="lb"/>
<text x="316.9" y="774.31" class="lg">Q3</text>
</g>
<g>
<path d="M404.19 671.92V662.53M402.08 662.53H406.29" class="er"/>
<rect x="399.95" y="671.92" width="8.47" height="136.68" fill="#ffffff" class="br"/>
<text transform="translate(404.19 660.23) scale(1 1.14)" class="lt">a</text>
<path d="M412.66 685.14V675.75M410.56 675.75H414.76" class="er"/>
<rect x="408.42" y="685.14" width="8.47" height="123.46" fill="#c0c0c0" class="br"/>
<text transform="translate(412.66 673.45) scale(1 1.14)" class="lt">b</text>
<path d="M421.12 677.14V662.88M419.02 662.88H423.23" class="er"/>
<rect x="416.89" y="677.14" width="8.47" height="131.46" fill="#808080" class="br"/>
<text transform="translate(421.12 660.58) scale(1 1.14)" class="lt">ab</text>
<path d="M429.6 667.05V657.32M427.5 657.32H431.7" class="er"/>
<rect x="425.36" y="667.05" width="8.47" height="141.55" fill="#000000" class="br"/>
<text transform="translate(429.6 655.02) scale(1 1.14)" class="lt">a</text>
<path d="M455.96 678.18V667.75M453.86 667.75H458.06" class="er"/>
<rect x="451.73" y="678.18" width="8.47" height="130.42" fill="#ffffff" class="br"/>
<text transform="translate(455.96 665.45) scale(1 1.14)" class="lt">a</text>
<path d="M464.44 674.01V664.27M462.33 664.27H466.54" class="er"/>
<rect x="460.2" y="674.01" width="8.47" height="134.59" fill="#c0c0c0" class="br"/>
<text transform="translate(464.44 661.97) scale(1 1.14)" class="lt">a</text>
<path d="M472.9 674.01V660.45M470.8 660.45H475" class="er"/>
<rect x="468.67" y="674.01" width="8.47" height="134.59" fill="#808080" class="br"/>
<text transform="translate(472.9 658.15) scale(1 1.14)" class="lt">a</text>
<path d="M481.38 672.97V662.88M479.27 662.88H483.48" class="er"/>
<rect x="477.14" y="672.97" width="8.47" height="135.63" fill="#000000" class="br"/>
<text transform="translate(481.38 660.58) scale(1 1.14)" class="lt">a</text>
<path d="M507.75 709.48V699.05M505.65 699.05H509.85" class="er"/>
<rect x="503.51" y="709.48" width="8.47" height="99.12" fill="#ffffff" class="br"/>
<text transform="translate(507.75 696.75) scale(1 1.14)" class="lt">ab</text>
<path d="M516.22 710.18V700.09M514.12 700.09H518.32" class="er"/>
<rect x="511.98" y="710.18" width="8.47" height="98.42" fill="#c0c0c0" class="br"/>
<text transform="translate(516.22 697.79) scale(1 1.14)" class="lt">ab</text>
<path d="M524.69 719.92V705.66M522.59 705.66H526.79" class="er"/>
<rect x="520.45" y="719.92" width="8.47" height="88.68" fill="#808080" class="br"/>
<text transform="translate(524.69 703.36) scale(1 1.14)" class="lt">b</text>
<path d="M533.16 699.05V689.66M531.06 689.66H535.26" class="er"/>
<rect x="528.92" y="699.05" width="8.47" height="109.55" fill="#000000" class="br"/>
<text transform="translate(533.16 687.36) scale(1 1.14)" class="lt">a</text>
<path d="M559.52 719.92V709.48M557.42 709.48H561.62" class="er"/>
<rect x="555.29" y="719.92" width="8.47" height="88.68" fill="#ffffff" class="br"/>
<text transform="translate(559.52 707.18) scale(1 1.14)" class="lt">a</text>
<path d="M568 723.05V712.96M565.89 712.96H570.1" class="er"/>
<rect x="563.76" y="723.05" width="8.47" height="85.55" fill="#c0c0c0" class="br"/>
<text transform="translate(568 710.66) scale(1 1.14)" class="lt">a</text>
<path d="M576.47 741.13V727.22M574.37 727.22H578.57" class="er"/>
<rect x="572.23" y="741.13" width="8.47" height="67.47" fill="#808080" class="br"/>
<text transform="translate(576.47 724.92) scale(1 1.14)" class="lt">b</text>
<path d="M584.93 718.18V708.44M582.83 708.44H587.03" class="er"/>
<rect x="580.7" y="718.18" width="8.47" height="90.42" fill="#000000" class="br"/>
<text transform="translate(584.93 706.14) scale(1 1.14)" class="lt">a</text>
<path d="M611.3 717.48V707.74M609.2 707.74H613.4" class="er"/>
<rect x="607.07" y="717.48" width="8.47" height="91.12" fill="#ffffff" class="br"/>
<text transform="translate(611.3 705.44) scale(1 1.14)" class="lt">b</text>
<path d="M619.77 714.7V704.96M617.67 704.96H621.88" class="er"/>
<rect x="615.54" y="714.7" width="8.47" height="93.9" fill="#c0c0c0" class="br"/>
<text transform="translate(619.77 702.66) scale(1 1.14)" class="lt">ab</text>
<path d="M628.25 731.39V717.48M626.14 717.48H630.35" class="er"/>
<rect x="624.01" y="731.39" width="8.47" height="77.21" fill="#808080" class="br"/>
<text transform="translate(628.25 715.18) scale(1 1.14)" class="lt">c</text>
<path d="M636.71 708.44V699.05M634.61 699.05H638.81" class="er"/>
<rect x="632.48" y="708.44" width="8.47" height="100.16" fill="#000000" class="br"/>
<text transform="translate(636.71 696.75) scale(1 1.14)" class="lt">a</text>
<path d="M391 651.5V809.5" class="ay"/>
<path d="M387.3 808.6H650.6" class="axx"/>
<text transform="translate(384.5 812.3) scale(1 1.14)" class="yt">0</text>
<text transform="translate(384.5 794.91) scale(1 1.14)" class="yt">5</text>
<text transform="translate(384.5 777.52) scale(1 1.14)" class="yt">10</text>
<text transform="translate(384.5 760.13) scale(1 1.14)" class="yt">15</text>
<text transform="translate(384.5 742.74) scale(1 1.14)" class="yt">20</text>
<text transform="translate(384.5 725.36) scale(1 1.14)" class="yt">25</text>
<text transform="translate(384.5 707.97) scale(1 1.14)" class="yt">30</text>
<text transform="translate(384.5 690.58) scale(1 1.14)" class="yt">35</text>
<text transform="translate(384.5 673.19) scale(1 1.14)" class="yt">40</text>
<text transform="translate(384.5 655.8) scale(1 1.14)" class="yt">45</text>
<path d="M387.3 808.6H391M387.3 791.21H391M387.3 773.82H391M387.3 756.43H391M387.3 739.04H391M387.3 721.66H391M387.3 704.27H391M387.3 686.88H391M387.3 669.49H391M387.3 652.1H391M391 808.6V812.2M442.78 808.6V812.2M494.56 808.6V812.2M546.34 808.6V812.2M598.12 808.6V812.2M649.9 808.6V812.2" class="tk"/>
<text transform="translate(416.89 824.7) scale(1 1.14)" class="xt">2</text>
<text transform="translate(468.67 824.7) scale(1 1.14)" class="xt">4</text>
<text transform="translate(520.45 824.7) scale(1 1.14)" class="xt">6</text>
<text transform="translate(572.23 824.7) scale(1 1.14)" class="xt">8</text>
<text transform="translate(624.01 824.7) scale(1 1.14)" class="xt">10</text>
<text transform="translate(520.45 840.2) scale(1 1.14)" class="ti">Duration of salt stress (d)</text>
<text transform="translate(368 729.35) rotate(-90) scale(1 1.14)" class="ti" style="letter-spacing:0.38px">Total Chl content (mg g<tspan class="sup" dy="-3.5">-1</tspan><tspan dy="3.5">)</tspan></text>
<text transform="translate(415.3 642.8) scale(1 .93)" class="pl">h</text>
<rect x="664" y="722.5" width="5.9" height="6.6" fill="#ffffff" class="lb"/>
<text x="673.5" y="729.2" class="lgb">Z0</text>
<rect x="664" y="737.57" width="5.9" height="6.6" fill="#c0c0c0" class="lb"/>
<text x="673.5" y="744.27" class="lgb">Z1</text>
<rect x="664" y="752.64" width="5.9" height="6.6" fill="#808080" class="lb"/>
<text x="673.5" y="759.34" class="lgb">Z2</text>
<rect x="664" y="767.71" width="5.9" height="6.6" fill="#000000" class="lb"/>
<text x="673.5" y="774.41" class="lgb">Z3</text>
</g>
</svg>
</body></html>
